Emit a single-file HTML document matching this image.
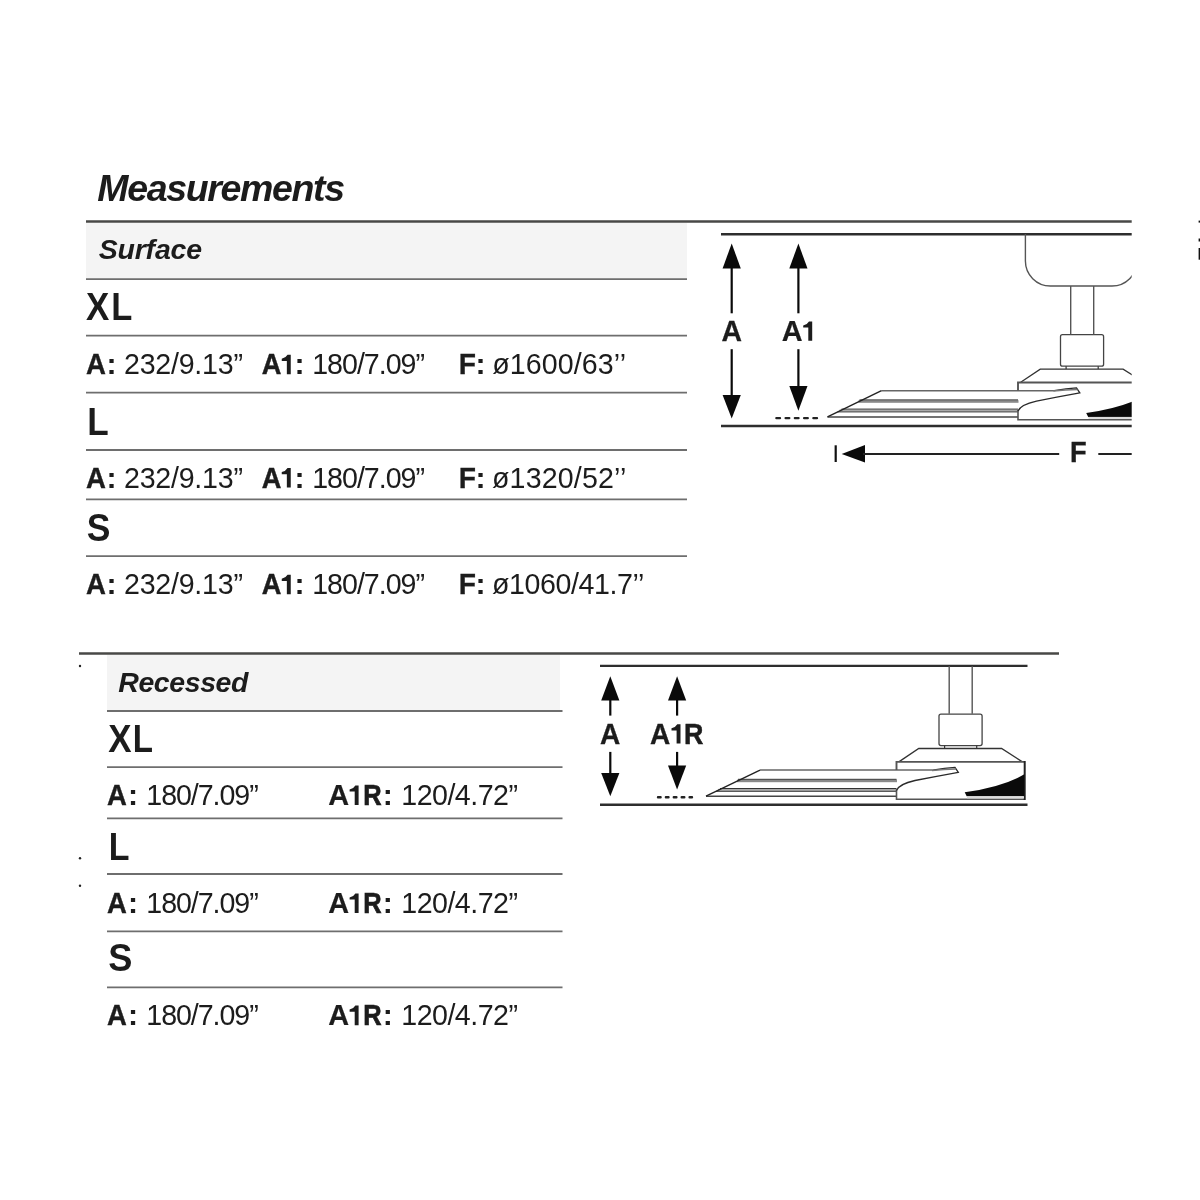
<!DOCTYPE html>
<html><head><meta charset="utf-8">
<style>
html,body{margin:0;padding:0;background:#fff;}
body{width:1200px;height:1200px;overflow:hidden;}
svg{display:block;will-change:transform;}
text{font-family:"Liberation Sans",sans-serif;fill:#1c1c1c;}
.b{font-weight:bold;}
.bi{font-weight:bold;font-style:italic;}
.r{font-weight:normal;}
.hl{stroke:#484846;stroke-width:2.5;}
.sl{stroke:#6e6e6e;stroke-width:1.8;}
.dl{stroke:#2e2e2e;stroke-width:2.4;}
.arw{fill:#0a0a0a;}
.stem{stroke:#0a0a0a;stroke-width:2.2;}
</style></head>
<body>
<svg width="1200" height="1200" viewBox="0 0 1200 1200">
<rect x="86" y="222.8" width="601" height="56.4" fill="#f4f4f4"/>
<line class="hl" x1="86" y1="221.6" x2="1131.7" y2="221.6"/>
<line class="sl" x1="86" y1="279.2" x2="687" y2="279.2"/>
<line class="sl" x1="86" y1="335.7" x2="687" y2="335.7"/>
<line class="sl" x1="86" y1="392.7" x2="687" y2="392.7"/>
<line class="sl" x1="86" y1="450" x2="687" y2="450"/>
<line class="sl" x1="86" y1="499.3" x2="687" y2="499.3"/>
<line class="sl" x1="86" y1="556.2" x2="687" y2="556.2"/>
<rect x="107" y="654.6" width="453" height="56.4" fill="#f4f4f4"/>
<line class="hl" x1="79" y1="653.4" x2="1059" y2="653.4"/>
<line class="sl" x1="107" y1="711" x2="562.5" y2="711"/>
<line class="sl" x1="107" y1="767.2" x2="562.5" y2="767.2"/>
<line class="sl" x1="107" y1="818.3" x2="562.5" y2="818.3"/>
<line class="sl" x1="107" y1="874" x2="562.5" y2="874"/>
<line class="sl" x1="107" y1="931.4" x2="562.5" y2="931.4"/>
<line class="sl" x1="107" y1="987.3" x2="562.5" y2="987.3"/>
<text class="bi" transform="translate(97.30,201)" style="font-size:37.5px;letter-spacing:-1.354px">Measurements</text>
<text class="bi" transform="translate(98.70,259.2)" style="font-size:28.5px;letter-spacing:-0.2px">Surface</text>
<text class="b" transform="translate(86.00,319.8) scale(0.907,1)" style="font-size:38.5px">X</text>
<text class="b" transform="translate(111.25,319.8) scale(0.8975,1)" style="font-size:38.5px">L</text>
<text class="b" transform="translate(87.20,434.5) scale(0.9125,1)" style="font-size:38.5px">L</text>
<text class="b" transform="translate(86.80,540.8) scale(0.9222,1)" style="font-size:38.5px">S</text>
<text class="b" transform="translate(86.00,374.3) scale(0.9138,1)" style="font-size:30.2px;stroke:#1c1c1c;stroke-width:0.39px">A</text>
<text class="b" transform="translate(106.50,374.3)" style="font-size:30.2px">:</text>
<text class="r" transform="translate(124.00,374.3)" style="font-size:28.6px;letter-spacing:-0.239px">232/9.13”</text>
<text class="b" transform="translate(261.75,374.3) scale(0.9,1)" style="font-size:30.2px;stroke:#1c1c1c;stroke-width:0.45px">A</text>
<text class="b" transform="translate(294.62,374.3)" style="font-size:30.2px">:</text>
<text class="r" transform="translate(312.20,374.3)" style="font-size:28.6px;letter-spacing:-1.0px">180/7.09”</text>
<text class="b" transform="translate(458.75,374.3) scale(0.9333,1)" style="font-size:30.2px;stroke:#1c1c1c;stroke-width:0.3px">F</text>
<text class="b" transform="translate(475.62,374.3)" style="font-size:30.2px">:</text>
<text class="r" transform="translate(492.30,374.3)" style="font-size:28.6px;letter-spacing:0.078px">ø1600/63’’</text>
<path fill="#1c1c1c" d="M290.75,374.3 L290.75,354.70 L287.55,354.70 Q285.95,357.70 281.75,358.70 L281.75,360.90 L286.85,360.90 L286.85,374.3 Z"/>
<text class="b" transform="translate(86.00,487.6) scale(0.9138,1)" style="font-size:30.2px;stroke:#1c1c1c;stroke-width:0.39px">A</text>
<text class="b" transform="translate(106.50,487.6)" style="font-size:30.2px">:</text>
<text class="r" transform="translate(124.00,487.6)" style="font-size:28.6px;letter-spacing:-0.239px">232/9.13”</text>
<text class="b" transform="translate(261.75,487.6) scale(0.9,1)" style="font-size:30.2px;stroke:#1c1c1c;stroke-width:0.45px">A</text>
<text class="b" transform="translate(294.62,487.6)" style="font-size:30.2px">:</text>
<text class="r" transform="translate(312.20,487.6)" style="font-size:28.6px;letter-spacing:-1.0px">180/7.09”</text>
<text class="b" transform="translate(458.75,487.6) scale(0.9333,1)" style="font-size:30.2px;stroke:#1c1c1c;stroke-width:0.3px">F</text>
<text class="b" transform="translate(475.62,487.6)" style="font-size:30.2px">:</text>
<text class="r" transform="translate(492.00,487.6)" style="font-size:28.6px;letter-spacing:0.144px">ø1320/52’’</text>
<path fill="#1c1c1c" d="M290.75,487.6 L290.75,468.00 L287.55,468.00 Q285.95,471.00 281.75,472.00 L281.75,474.20 L286.85,474.20 L286.85,487.6 Z"/>
<text class="b" transform="translate(86.00,594.3) scale(0.9138,1)" style="font-size:30.2px;stroke:#1c1c1c;stroke-width:0.39px">A</text>
<text class="b" transform="translate(106.50,594.3)" style="font-size:30.2px">:</text>
<text class="r" transform="translate(124.00,594.3)" style="font-size:28.6px;letter-spacing:-0.239px">232/9.13”</text>
<text class="b" transform="translate(261.75,594.3) scale(0.9,1)" style="font-size:30.2px;stroke:#1c1c1c;stroke-width:0.45px">A</text>
<text class="b" transform="translate(294.62,594.3)" style="font-size:30.2px">:</text>
<text class="r" transform="translate(312.20,594.3)" style="font-size:28.6px;letter-spacing:-1.0px">180/7.09”</text>
<text class="b" transform="translate(458.75,594.3) scale(0.9333,1)" style="font-size:30.2px;stroke:#1c1c1c;stroke-width:0.3px">F</text>
<text class="b" transform="translate(475.62,594.3)" style="font-size:30.2px">:</text>
<text class="r" transform="translate(492.00,594.3)" style="font-size:28.6px;letter-spacing:-0.409px">ø1060/41.7’’</text>
<path fill="#1c1c1c" d="M290.75,594.3 L290.75,574.70 L287.55,574.70 Q285.95,577.70 281.75,578.70 L281.75,580.90 L286.85,580.90 L286.85,594.3 Z"/>
<text class="bi" transform="translate(118.30,691.7)" style="font-size:28.5px;letter-spacing:-0.429px">Recessed</text>
<text class="b" transform="translate(108.25,751.8) scale(0.907,1)" style="font-size:38.5px">X</text>
<text class="b" transform="translate(132.75,751.8) scale(0.8606,1)" style="font-size:38.5px">L</text>
<text class="b" transform="translate(108.80,859.6) scale(0.8827,1)" style="font-size:38.5px">L</text>
<text class="b" transform="translate(108.20,971.4) scale(0.9401,1)" style="font-size:38.5px">S</text>
<text class="b" transform="translate(107.10,805) scale(0.9107,1)" style="font-size:30.2px;stroke:#1c1c1c;stroke-width:0.4px">A</text>
<text class="b" transform="translate(128.00,805)" style="font-size:30.2px">:</text>
<text class="r" transform="translate(146.30,805)" style="font-size:28.6px;letter-spacing:-1.05px">180/7.09”</text>
<text class="b" transform="translate(328.30,805) scale(0.956,1)" style="font-size:30.2px;stroke:#1c1c1c;stroke-width:0.2px">A</text>
<text class="b" transform="translate(363.30,805) scale(0.8421,1)" style="font-size:30.2px;stroke:#1c1c1c;stroke-width:0.71px">R</text>
<text class="b" transform="translate(382.80,805)" style="font-size:30.2px">:</text>
<text class="r" transform="translate(401.30,805)" style="font-size:28.6px;letter-spacing:-0.525px">120/4.72”</text>
<path fill="#1c1c1c" d="M358.6,805 L358.6,785.40 L355.40,785.40 Q353.80,788.40 349.60,789.40 L349.60,791.60 L354.70,791.60 L354.70,805 Z"/>
<text class="b" transform="translate(107.10,913) scale(0.9107,1)" style="font-size:30.2px;stroke:#1c1c1c;stroke-width:0.4px">A</text>
<text class="b" transform="translate(128.00,913)" style="font-size:30.2px">:</text>
<text class="r" transform="translate(146.30,913)" style="font-size:28.6px;letter-spacing:-1.05px">180/7.09”</text>
<text class="b" transform="translate(328.30,913) scale(0.956,1)" style="font-size:30.2px;stroke:#1c1c1c;stroke-width:0.2px">A</text>
<text class="b" transform="translate(363.30,913) scale(0.8421,1)" style="font-size:30.2px;stroke:#1c1c1c;stroke-width:0.71px">R</text>
<text class="b" transform="translate(382.80,913)" style="font-size:30.2px">:</text>
<text class="r" transform="translate(401.30,913)" style="font-size:28.6px;letter-spacing:-0.525px">120/4.72”</text>
<path fill="#1c1c1c" d="M358.6,913 L358.6,893.40 L355.40,893.40 Q353.80,896.40 349.60,897.40 L349.60,899.60 L354.70,899.60 L354.70,913 Z"/>
<text class="b" transform="translate(107.10,1025.2) scale(0.9107,1)" style="font-size:30.2px;stroke:#1c1c1c;stroke-width:0.4px">A</text>
<text class="b" transform="translate(128.00,1025.2)" style="font-size:30.2px">:</text>
<text class="r" transform="translate(146.30,1025.2)" style="font-size:28.6px;letter-spacing:-1.05px">180/7.09”</text>
<text class="b" transform="translate(328.30,1025.2) scale(0.956,1)" style="font-size:30.2px;stroke:#1c1c1c;stroke-width:0.2px">A</text>
<text class="b" transform="translate(363.30,1025.2) scale(0.8421,1)" style="font-size:30.2px;stroke:#1c1c1c;stroke-width:0.71px">R</text>
<text class="b" transform="translate(382.80,1025.2)" style="font-size:30.2px">:</text>
<text class="r" transform="translate(401.30,1025.2)" style="font-size:28.6px;letter-spacing:-0.525px">120/4.72”</text>
<path fill="#1c1c1c" d="M358.6,1025.2 L358.6,1005.60 L355.40,1005.60 Q353.80,1008.60 349.60,1009.60 L349.60,1011.80 L354.70,1011.80 L354.70,1025.2 Z"/>
<text class="b" transform="translate(721.50,340.8) scale(0.9408,1)" style="font-size:30.2px;stroke:#1c1c1c;stroke-width:0.27px">A</text>
<text class="b" transform="translate(781.70,340.8) scale(0.956,1)" style="font-size:30.2px;stroke:#1c1c1c;stroke-width:0.2px">A</text>
<path fill="#1c1c1c" d="M812.2,340.8 L812.2,321.40 L809.00,321.40 Q807.40,324.40 803.20,325.40 L803.20,327.60 L808.30,327.60 L808.30,340.8 Z"/>
<text class="b" transform="translate(1070.00,462.1) scale(0.9186,1)" style="font-size:29.6px;stroke:#1c1c1c;stroke-width:0.37px">F</text>
<text class="b" transform="translate(600.10,743.6) scale(0.9303,1)" style="font-size:30.2px;stroke:#1c1c1c;stroke-width:0.31px">A</text>
<text class="b" transform="translate(650.10,743.6) scale(0.9303,1)" style="font-size:30.2px;stroke:#1c1c1c;stroke-width:0.31px">A</text>
<path fill="#1c1c1c" d="M680.5,743.6 L680.5,724.20 L677.30,724.20 Q675.70,727.20 671.50,728.20 L671.50,730.40 L676.60,730.40 L676.60,743.6 Z"/>
<text class="b" transform="translate(684.10,743.6) scale(0.8904,1)" style="font-size:30.2px;stroke:#1c1c1c;stroke-width:0.49px">R</text>
<defs>
<clipPath id="clipS"><rect x="0" y="0" width="1131.7" height="1200"/></clipPath>
<g id="fixture">
  <!-- blade outer -->
  <rect x="737" y="779.6" width="160" height="2.6" fill="#8a8a8a"/>
  <line x1="738" y1="779.3" x2="896.5" y2="779.3" stroke="#333" stroke-width="1"/>
  <rect x="718" y="788.9" width="179" height="2" fill="#aaa"/>
  <line x1="720" y1="788.5" x2="896.5" y2="788.5" stroke="#333" stroke-width="1"/>
  <line x1="716" y1="791.3" x2="896.5" y2="791.3" stroke="#333" stroke-width="1"/>
  <path d="M896.5,796.3 L706,796.3" fill="none" stroke="#444" stroke-width="1.5"/>
  <path d="M932.7,770.1 L760,770.1" fill="none" stroke="#666" stroke-width="1.5"/>
  <path d="M706,796.2 L760,770.1" fill="none" stroke="#222" stroke-width="1.4"/>
  <!-- trapezoid -->
  <path d="M899.2,761.6 L918.75,748.5 L1001.6,748.5 L1022,761.6" fill="none" stroke="#333" stroke-width="1.3"/>
  <!-- body -->
  <path d="M896.5,770 L896.5,761.9 L1024.7,761.9" fill="none" stroke="#555" stroke-width="1.9"/>
  <path d="M896.5,789.5 L896.5,799.2 L1024.7,799.2" fill="none" stroke="#555" stroke-width="1.6"/>
  <line x1="1024.7" y1="761" x2="1024.7" y2="800" stroke="#222" stroke-width="2"/>
  <!-- black wedge -->
  <path d="M964.7,792.3 Q1003,787 1024.3,774.3 L1024.3,796.3 L966.7,796.3 Z" fill="#0a0a0a"/>
  <rect x="967" y="796.3" width="57" height="2" fill="#dcdcdc"/>
  <!-- hook + lower curve -->
  <path d="M932.7,770.1 Q945,768 955,767.3 L958.3,772.3 Q935,776.5 915,780.5 Q899,784 896.5,790.5" fill="none" stroke="#2a2a2a" stroke-width="1.3"/>
  <path d="M932,770.5 Q944,769.3 956,769" fill="none" stroke="#777" stroke-width="1.5"/>
  <!-- cap box -->
  <rect x="939" y="714.1" width="43.1" height="31.5" rx="2" fill="#fff" stroke="#444" stroke-width="1.3"/>
  <line x1="944.6" y1="745.6" x2="944.6" y2="748.5" stroke="#333" stroke-width="1.2"/>
  <line x1="976.7" y1="745.6" x2="976.7" y2="748.5" stroke="#333" stroke-width="1.2"/>
</g>
</defs>

<!-- ===== SURFACE DIAGRAM ===== -->
<line class="dl" x1="721" y1="234.2" x2="1131.7" y2="234.2"/>
<line class="dl" x1="721" y1="426" x2="1131.7" y2="426"/>
<g clip-path="url(#clipS)">
  <use href="#fixture" transform="translate(121.5,-379.4)"/>
  <path d="M1025.4,234 L1025.4,261 A25,25 0 0 0 1050.4,286 L1112,286 A25,25 0 0 0 1137,261 L1137,234" fill="none" stroke="#555" stroke-width="1.4"/>
  <line x1="1070.7" y1="286" x2="1070.7" y2="334.5" stroke="#555" stroke-width="1.4"/>
  <line x1="1093.7" y1="286" x2="1093.7" y2="334.5" stroke="#555" stroke-width="1.4"/>
</g>
<!-- arrows A -->
<path class="arw" d="M731.7,243.6 L740.8,268.4 L722.6,268.4 Z"/>
<line class="stem" x1="731.7" y1="266" x2="731.7" y2="313.3"/>
<line class="stem" x1="731.7" y1="349.2" x2="731.7" y2="397"/>
<path class="arw" d="M731.7,418.4 L740.8,395 L722.6,395 Z"/>
<path class="arw" d="M798.4,243.6 L807.5,268.4 L789.3,268.4 Z"/>
<line class="stem" x1="798.4" y1="266" x2="798.4" y2="313.3"/>
<line class="stem" x1="798.4" y1="349.2" x2="798.4" y2="388"/>
<path class="arw" d="M798.4,410.8 L807.5,386 L789.3,386 Z"/>
<path d="M776.4,418.1 L817,418.1" stroke="#222" stroke-width="2.4" stroke-dasharray="3.6,5.65" stroke-linecap="round"/>
<!-- F dimension -->
<line x1="835.7" y1="445.3" x2="835.7" y2="462" stroke="#111" stroke-width="2.2"/>
<path class="arw" d="M841.7,454 L865,445 L865,462.5 Z"/>
<line x1="863" y1="454" x2="1059.2" y2="454" stroke="#222" stroke-width="2.2"/>
<line x1="1098.3" y1="454" x2="1131.7" y2="454" stroke="#222" stroke-width="2.2"/>

<!-- ===== RECESSED DIAGRAM ===== -->
<line class="dl" x1="600" y1="665.9" x2="1027.5" y2="665.9"/>
<line class="dl" x1="600" y1="804.7" x2="1027.5" y2="804.7"/>
<use href="#fixture"/>
<line x1="949.2" y1="666" x2="949.2" y2="713.7" stroke="#555" stroke-width="1.4"/>
<line x1="972.2" y1="666" x2="972.2" y2="713.7" stroke="#555" stroke-width="1.4"/>
<path class="arw" d="M610.3,676.3 L619.4,700.6 L601.2,700.6 Z"/>
<line class="stem" x1="610.3" y1="698" x2="610.3" y2="715.6"/>
<line class="stem" x1="610.3" y1="751.9" x2="610.3" y2="775"/>
<path class="arw" d="M610.3,796.3 L619.4,773.1 L601.2,773.1 Z"/>
<path class="arw" d="M677.1,676.3 L686.2,700.6 L668,700.6 Z"/>
<line class="stem" x1="677.1" y1="698" x2="677.1" y2="715.6"/>
<line class="stem" x1="677.1" y1="751.9" x2="677.1" y2="768"/>
<path class="arw" d="M677.1,789.4 L686.2,765.6 L668,765.6 Z"/>
<path d="M658,797.3 L692,797.3" stroke="#222" stroke-width="2.4" stroke-dasharray="2.6,5.3" stroke-linecap="round"/>


<circle cx="80" cy="666" r="1.2" fill="#222"/>
<circle cx="80" cy="858.3" r="1.2" fill="#222"/>
<circle cx="80" cy="885.8" r="1.2" fill="#222"/>
<rect x="1198.6" y="220.6" width="1.4" height="2" fill="#111"/>
<rect x="1198.6" y="238.5" width="1.4" height="3" fill="#111"/>
<rect x="1198.6" y="248" width="1.4" height="11.7" fill="#111"/>
</svg>
</body></html>
